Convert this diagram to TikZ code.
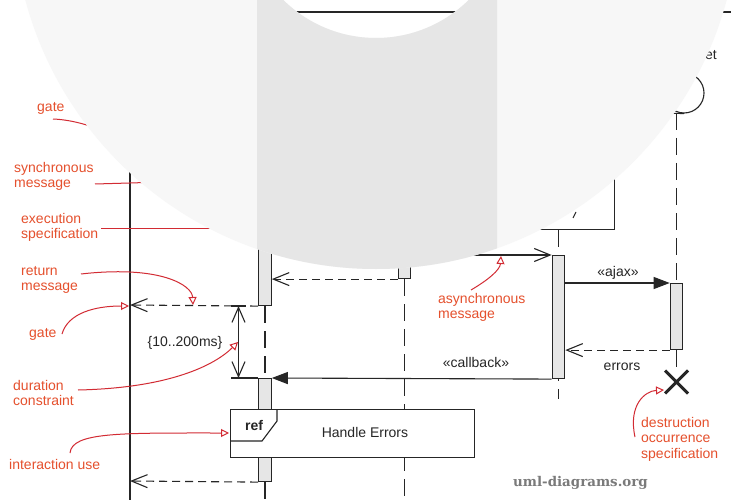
\documentclass[tikz,border=0pt]{standalone}
\usepackage{fontspec}
\setmainfont{Liberation Sans}
\newfontfamily\wmfont{DejaVu Serif}
\usetikzlibrary{arrows.meta,shapes.misc}
\definecolor{ink}{HTML}{262626}
\definecolor{actfill}{HTML}{E6E6E6}
\definecolor{anntext}{HTML}{E5502D}
\definecolor{annline}{HTML}{D22B33}
\definecolor{ovlight}{HTML}{F7F7F7}
\definecolor{ovband}{HTML}{E6E6E6}
\definecolor{wmgrey}{HTML}{7A7A7A}
\begin{document}
\begin{tikzpicture}[x=1pt,y=-1pt,
  every node/.style={font=\fontsize{14}{16}\selectfont, inner sep=0pt},
  ln/.style={draw=ink, line width=1.1pt},
  bar/.style={draw=ink, fill=actfill, line width=1.1pt, minimum width=12.5pt, inner sep=0pt},
  lifedash/.style={ln, dash pattern=on 17pt off 8pt},
  msgdash/.style={ln, dash pattern=on 8pt off 5pt},
  openhd/.style={-{Straight Barb[length=16pt,width=13pt]}},
  filledhd/.style={-{Triangle[length=16pt,width=12pt]}},
  annln/.style={draw=annline, line width=1pt, -{Triangle[open,length=8pt,width=8pt]}},
  annplain/.style={draw=annline, line width=1pt},
  anntxt/.style={text=anntext, anchor=base west},
  lbl/.style={text=ink}
]
\useasboundingbox (0,0) rectangle (731,500);
\clip (0,0) rectangle (731,500);
\fill[white] (0,0) rectangle (731,500);

% frame
\coordinate (ftl) at (130,12);
\draw[ln] (745,12) -- (ftl) -- (130,510);

% lifeline heads
\node[draw=ink, line width=1.1pt, minimum width=112pt, minimum height=70pt, anchor=south] (chead) at (558.5,230) {};
\draw[draw=ink, line width=1pt] (573,218) -- (576,212);
\node[draw=ink, line width=1.1pt, circle, minimum size=40pt] (ent) at (684,93) {};
\coordinate (entfoot) at (676.5,113);
\draw[ln] (660,113) -- (ent.south);
\node[lbl, anchor=base west] (etl) at (705,59.5) {et};

% execution specifications
\node[bar, minimum height=155pt, anchor=north] (a1) at (265,150) {};
\node[bar, minimum height=103pt, anchor=north] (a2) at (265,378) {};
\node[bar, minimum height=178pt, anchor=north] (b1) at (404.5,100) {};
\node[bar, minimum height=123pt, anchor=north] (c1) at (558.5,255) {};
\node[bar, minimum height=66pt, anchor=north] (d1) at (676.5,283) {};
\node[cross out, draw=ink, line width=3pt, minimum size=20pt] (dx) at (676.5,382) {};

% lifelines
\coordinate (aend) at (265,510);
\coordinate (bend) at (404.5,510);
\coordinate (cend) at (558.5,399);
\draw[lifedash] (a1.south) -- (a2.north);
\draw[lifedash] (a2.south) -- (aend);
\draw[lifedash] (b1.south) -- (bend);
\draw[lifedash] (chead.south) -- (c1.north);
\draw[lifedash, dash phase=15pt] (c1.south) -- (cend);
\draw[lifedash] (entfoot) -- (d1.north);
\draw[lifedash] (d1.south) -- (dx.north);

% redraw bars on top of lifelines
\node[bar, minimum height=155pt, anchor=north] at (265,150) {};
\node[bar, minimum height=103pt, anchor=north] at (265,378) {};
\node[bar, minimum height=178pt, anchor=north] at (404.5,100) {};
\node[bar, minimum height=123pt, anchor=north] at (558.5,255) {};
\node[bar, minimum height=66pt, anchor=north] at (676.5,283) {};

% interaction use
\node[draw=ink, line width=1.1pt, fill=white, minimum width=244pt, minimum height=48pt, anchor=north west] (ref) at (230,409) {};
\draw[ln] (277,409) -- (277,421) -- (262,441) -- (230,441);
\node[lbl, anchor=base, font=\bfseries\fontsize{14}{16}\selectfont] (reft) at (254,430) {ref};
\node[lbl, anchor=base] (hel) at (365,437) {Handle Errors};

% messages
\coordinate (gate1) at (130,305);
\coordinate (gate2) at (130,481);
\draw[ln, openhd] (b1.east |- c1.north) -- (c1.north west);
\draw[msgdash, openhd] (b1.south west) -- (a1.east |- b1.south west);
\draw[msgdash, openhd] (a1.south west) -- (gate1);
\draw[ln, filledhd] (c1.east |- d1.north) -- (d1.north west);
\draw[msgdash, openhd] (d1.south west) -- (c1.east |- d1.south west);
\draw[ln, filledhd] (c1.south west) -- (a2.north east);
\draw[msgdash, openhd] (a2.south west) -- (gate2);

\node[lbl, anchor=base] (ajaxl) at (618,276.5) {«ajax»};
\node[lbl, anchor=base] (errl) at (622,370) {errors};
\node[lbl, anchor=base] (cbl) at (476,367) {«callback»};

% duration constraint
\coordinate (dtop) at (238.5,306);
\coordinate (dbot) at (238.5,378);
\draw[ln, {Straight Barb[length=15pt,width=13pt]}-{Straight Barb[length=15pt,width=13pt]}] (dtop) -- (dbot);
\draw[ln] (231,306) -- (246,306);
\draw[ln] (231,378) -- (a2.north west);
\node[lbl, anchor=base] (durl) at (185,346) {\{10..200ms\}};

% annotations
\node[anntxt] (t1) at (37,112) {gate};
\node[anntxt] (t2a) at (14,172) {synchronous};
\node[anntxt] (t2b) at (14,187.5) {message};
\node[anntxt] (t3a) at (21,223) {execution};
\node[anntxt] (t3b) at (21,238.5) {specification};
\node[anntxt] (t4a) at (21,275) {return};
\node[anntxt] (t4b) at (21,290.5) {message};
\node[anntxt] (t5) at (29,337) {gate};
\node[anntxt] (t6a) at (13,390) {duration};
\node[anntxt] (t6b) at (13,405.5) {constraint};
\node[anntxt] (t7) at (9,469) {interaction use};
\node[anntxt] (t8a) at (438,303) {asynchronous};
\node[anntxt] (t8b) at (438,318.5) {message};
\node[anntxt] (t9a) at (641,427) {destruction};
\node[anntxt] (t9b) at (641,442.5) {occurrence};
\node[anntxt] (t9c) at (641,458) {specification};

\coordinate (s1) at (53,119);   \coordinate (e1) at (129,145);
\coordinate (s2) at (95,184);   \coordinate (e2) at (260,179);
\coordinate (s3) at (101,228);  \coordinate (e3) at (258,228);
\coordinate (s4) at (81,274);   \coordinate (e4) at (193,305);
\coordinate (s5) at (62,334);   \coordinate (e5) at (129,306);
\coordinate (s6) at (78,390);   \coordinate (e6) at (238,342);
\coordinate (s7) at (70,453);   \coordinate (e7) at (229,433);
\coordinate (s8) at (471,290);  \coordinate (e8) at (501,256);
\coordinate (s9) at (635,437);  \coordinate (e9) at (664,390);
\draw[annln] (s1) .. controls (78,120) and (105,130) .. (e1);
\draw[annplain] (s2) .. controls (130,183) .. (e2);
\draw[annplain] (s3) -- (e3);
\draw[annln] (s4) .. controls (160,265) and (192,285) .. (e4);
\draw[annln] (s5) .. controls (68,313) and (95,306) .. (e5);
\draw[annln] (s6) .. controls (170,388) and (215,365) .. (e6);
\draw[annln] (s7) .. controls (72,432) and (120,433) .. (e7);
\draw[annln] (s8) .. controls (488,280) and (500,270) .. (e8);
\draw[annln] (s9) .. controls (628,405) and (645,391) .. (e9);

% watermark
\node[text=wmgrey, anchor=base west, font=\wmfont\bfseries\fontsize{13.4}{16}\selectfont] (wm) at (513,486) {uml-diagrams.org};

% overlay
\fill[ovlight, even odd rule] (376,-94) circle (363pt) (376,-94) circle (132pt);
\begin{scope}
\clip (376,-94) circle (363pt);
\fill[ovband, even odd rule] (257,-20) rectangle (497,320) (376,-94) circle (132pt);
\end{scope}
\end{tikzpicture}
\end{document}
